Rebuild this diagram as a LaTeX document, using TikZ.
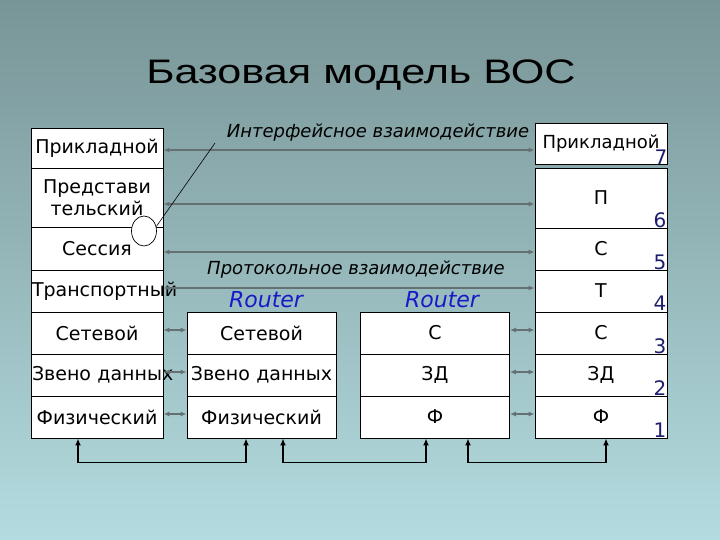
\documentclass[tikz,border=0pt]{standalone}
\usepackage{fontspec}
\setmainfont{DejaVu Sans}
\newfontfamily\titlefont{Liberation Sans}
\usetikzlibrary{arrows.meta,shapes.geometric,calc}
\definecolor{bgtop}{RGB}{120,148,150}
\definecolor{bgbot}{RGB}{180,220,224}
\definecolor{garrow}{RGB}{100,112,114}
\definecolor{navy}{RGB}{30,30,110}
\definecolor{rblue}{RGB}{25,25,200}
\begin{document}
\begin{tikzpicture}[x=1pt,y=-1pt,
  box/.style={draw=black, fill=white, line width=0.9pt, inner sep=1pt, text width=130pt, align=center, font=\fontsize{19}{22}\selectfont},
  rbox/.style={box, text width=147pt, minimum height=42pt},
  num/.style={text=navy, font=\fontsize{20}{20}\selectfont, inner sep=0pt},
  garr/.style={draw=garrow, line width=2pt, {Latex[length=6pt,width=5pt]}-{Latex[length=6pt,width=5pt]}},
  barr/.style={draw=black, line width=1.4pt, {Latex[length=7pt,width=6pt]}-{Latex[length=7pt,width=6pt]}},
  lbl/.style={font=\fontsize{18}{18}\selectfont\itshape, inner sep=0pt},
  rtr/.style={text=rblue, font=\fontsize{22}{22}\selectfont\itshape, inner sep=0pt}]
\useasboundingbox (0,0) rectangle (720,540);
\shade[top color=bgtop, bottom color=bgbot] (0,0) rectangle (720,540);

\node[anchor=base] (title) at (361,84) {\titlefont\fontsize{34}{34}\selectfont\scalebox{1.27}[1]{Базовая модель ВОС}};

% left stack
\node[box, minimum height=40pt] (L7) at (97,148) {Прикладной};
\node[box, minimum height=59pt] (L6) at (97,197.5) {Представи\\тельский};
\node[box, minimum height=43pt] (L5) at (97,248.5) {Сессия};
\node[box, minimum height=42pt] (L4) at (97,291) {\mbox{Транспортный}};
\node[box, minimum height=42pt] (L3) at (97,333) {Сетевой};
\node[box, minimum height=42pt] (L2) at (97,375) {\mbox{Звено данных}};
\node[box, minimum height=42pt] (L1) at (97,417) {Физический};

% right stack
\node[box, minimum height=41pt, font=\fontsize{18}{20}\selectfont] (R7) at (601,143.5) {Прикладной};
\node[box, minimum height=60pt] (R6) at (601,198) {П};
\node[box, minimum height=42pt] (R5) at (601,249) {С};
\node[box, minimum height=42pt] (R4) at (601,291) {Т};
\node[box, minimum height=42pt] (R3) at (601,333) {С};
\node[box, minimum height=42pt] (R2) at (601,375) {ЗД};
\node[box, minimum height=42pt] (R1) at (601,417) {Ф};

% router 1
\node[rbox] (A3) at (261.5,333) {Сетевой};
\node[rbox] (A2) at (261.5,375) {\mbox{Звено данных}};
\node[rbox] (A1) at (261.5,417) {Физический};
% router 2
\node[rbox] (B3) at (435,333) {С};
\node[rbox] (B2) at (435,375) {ЗД};
\node[rbox] (B1) at (435,417) {Ф};

% numbers
\node[num] (n7) at (661,157) {7};
\node[num] (n6) at (660,220) {6};
\node[num] (n5) at (660,262) {5};
\node[num] (n4) at (660,303) {4};
\node[num] (n3) at (660,346) {3};
\node[num] (n2) at (660,388) {2};
\node[num] (n1) at (660,430) {1};

% labels
\node[lbl] (inter) at (378,133) {Интерфейсное взаимодействие};
\node[lbl] (proto) at (356,270) {Протокольное взаимодействие};
\node[rtr] (rt1) at (266,300) {Router};
\node[rtr] (rt2) at (442,300) {Router};

% gray arrows
\draw[garr] ([yshift=-2pt]L7.east) -- ([yshift=-2pt]L7.east -| R7.west);
\draw[garr] ([yshift=-6.5pt]L6.east) -- ([yshift=-6.5pt]L6.east -| R6.west);
\draw[garr] ([yshift=-3.5pt]L5.east) -- ([yshift=-3.5pt]L5.east -| R5.west);
\draw[garr] ([yshift=3pt]L4.east) -- ([yshift=3pt]L4.east -| R4.west);
\draw[garr] ([yshift=3pt]L3.east) -- ([yshift=3pt]A3.west);
\draw[garr] ([yshift=3pt]L2.east) -- ([yshift=3pt]A2.west);
\draw[garr] ([yshift=3pt]L1.east) -- ([yshift=3pt]A1.west);
\draw[garr] ([yshift=3pt]B3.east) -- ([yshift=3pt]R3.west);
\draw[garr] ([yshift=3pt]B2.east) -- ([yshift=3pt]R2.west);
\draw[garr] ([yshift=3pt]B1.east) -- ([yshift=3pt]R1.west);

% circle with pointer
\node[draw=black, fill=white, ellipse, line width=0.7pt, minimum width=25pt, minimum height=30pt, inner sep=0pt] (circ) at (144,231) {};
\coordinate (ctip) at (215,143);
\draw[line width=0.6pt] (circ.20) -- (ctip);

% bottom black arrows
\draw[barr] ([xshift=-19pt]L1.south) -- ++(0,24) -| ([xshift=-15.5pt]A1.south);
\draw[barr] ([xshift=21.5pt]A1.south) -- ++(0,24) -| ([xshift=-9pt]B1.south);
\draw[barr] ([xshift=33pt]B1.south) -- ++(0,24) -| ([xshift=5pt]R1.south);
\end{tikzpicture}
\end{document}
